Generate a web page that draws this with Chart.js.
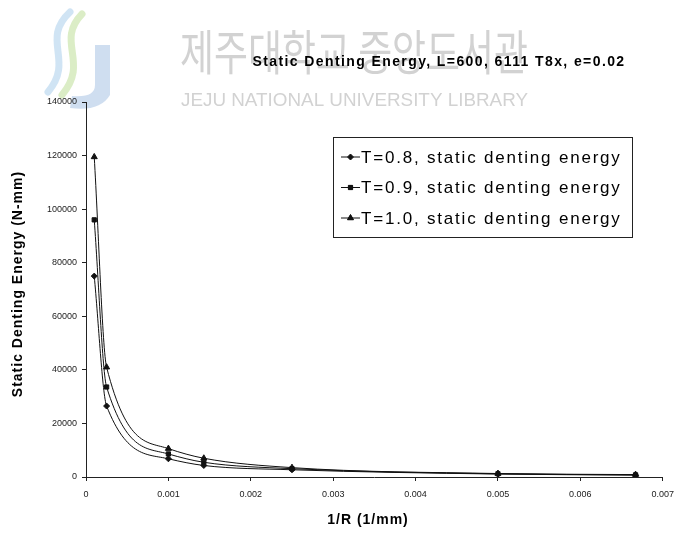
<!DOCTYPE html>
<html>
<head>
<meta charset="utf-8">
<script src="https://cdn.jsdelivr.net/npm/chart.js@4/dist/chart.umd.min.js"></script>
<style>
  html, body { margin:0; padding:0; background:#fff; }
  #wrap { width:682px; height:533px; position:relative; }
</style>
</head>
<body>
<div id="wrap"><canvas id="denting"></canvas></div>
<script>

// 1/R (1/mm)
const inverseRadius = [0.0001, 0.00025, 0.001, 0.00143, 0.0025, 0.005, 0.00667];

// static denting energy (N-mm)
const energyT08 = [75000, 26500, 6800, 4300, 2700, 1100, 700];
const energyT09 = [96000, 33600, 8600, 5500, 3100, 1200, 800];
const energyT10 = [119500, 41000, 10600, 7000, 3500, 1300, 900];

const seriesLabels = [
    "T=0.8, static denting energy",
    "T=0.9, static denting energy",
    "T=1.0, static denting energy"
];

const xTicks = [0, 0.001, 0.002, 0.003, 0.004, 0.005, 0.006, 0.007];
const yTicks = [0, 20000, 40000, 60000, 80000, 100000, 120000, 140000];

const titleText = "Static Denting Energy, L=600, 6111 T8x, e=0.02";
const xTitle = "1/R (1/mm)";
const yTitle = "Static Denting Energy (N-mm)";
const watermarkKo = "제주대학교 중앙도서관";
const watermarkEn = "JEJU NATIONAL UNIVERSITY LIBRARY";

const FONT = "'Liberation Sans', Arial, sans-serif";

function toPoints(values){
    return values.map((v,i)=>({x:inverseRadius[i], y:v}));
}

function makeSet(label, values, marker, radius){
    return {
        label:label,
        data:toPoints(values),
        showLine:true,
        borderColor:"#111",
        borderWidth:1,
        backgroundColor:"#111",
        pointStyle:marker,
        pointRadius:radius,
        pointBorderWidth:1,
        cubicInterpolationMode:"monotone"
    };
}

// watermark, logo, titles and legend
const decorPlugin = {
    id:"decor",
    beforeDraw(chart){
        const ctx = chart.ctx;
        ctx.save();

        // faint logo swooshes
        ctx.lineCap = "round";
        ctx.lineWidth = 7;
        ctx.strokeStyle = "rgba(170,205,235,0.55)";
        ctx.beginPath();
        ctx.moveTo(70,12);
        ctx.bezierCurveTo(40,40,75,60,48,92);
        ctx.stroke();
        ctx.strokeStyle = "rgba(195,225,160,0.6)";
        ctx.beginPath();
        ctx.moveTo(82,14);
        ctx.bezierCurveTo(55,42,90,62,62,95);
        ctx.stroke();
        ctx.fillStyle = "rgba(175,200,230,0.6)";
        ctx.beginPath();
        ctx.moveTo(95,45);
        ctx.lineTo(110,45);
        ctx.lineTo(110,95);
        ctx.quadraticCurveTo(100,112,70,108);
        ctx.lineTo(72,96);
        ctx.quadraticCurveTo(95,98,95,85);
        ctx.closePath();
        ctx.fill();

        ctx.fillStyle = "#d2d2d2";
        ctx.textBaseline = "alphabetic";
        ctx.textAlign = "left";
        ctx.font = "48px 'Noto Sans CJK KR'";
        ctx.fillText(watermarkKo, 180, 70, 348);
        ctx.font = "19px " + FONT;
        ctx.fillText(watermarkEn, 181, 106, 347);
        ctx.restore();
    },
    afterDraw(chart){
        const ctx = chart.ctx;
        ctx.save();
        ctx.fillStyle = "#000";
        ctx.textAlign = "center";
        ctx.textBaseline = "middle";

        ctx.letterSpacing = "1.4px";
        ctx.font = "bold 14px " + FONT;
        ctx.fillText(titleText, 439, 62);

        ctx.letterSpacing = "1px";
        ctx.font = "bold 14px " + FONT;
        ctx.fillText(xTitle, 368, 520);

        ctx.save();
        ctx.translate(18, 284);
        ctx.rotate(-Math.PI/2);
        ctx.fillText(yTitle, 0, 0);
        ctx.restore();

        // legend box
        const boxL = 333, boxT = 137, boxW = 299, boxH = 100;
        ctx.fillStyle = "#fff";
        ctx.fillRect(boxL, boxT, boxW, boxH);
        ctx.strokeStyle = "#222";
        ctx.lineWidth = 1;
        ctx.strokeRect(boxL+0.5, boxT+0.5, boxW, boxH);

        ctx.letterSpacing = "1.8px";
        ctx.font = "17px " + FONT;
        ctx.textAlign = "left";
        chart.data.datasets.forEach((ds,i)=>{
            const y = boxT + 20 + i*30.5;
            ctx.strokeStyle = "#111";
            ctx.beginPath();
            ctx.moveTo(boxL+8, y);
            ctx.lineTo(boxL+27, y);
            ctx.stroke();
            Chart.helpers.drawPoint(ctx, {
                pointStyle:ds.pointStyle,
                radius:ds.pointRadius,
                borderWidth:1
            }, boxL+17.5, y);
            ctx.fillStyle = "#111";
            ctx.fill();
            ctx.fillStyle = "#000";
            ctx.fillText(ds.label, boxL+28, y+1);
        });
        ctx.restore();
    }
};

new Chart(
    document.getElementById("denting"),
    {
        type:"scatter",
        data:{
            datasets:[
                makeSet(seriesLabels[0], energyT08, "rectRot", 3),
                makeSet(seriesLabels[1], energyT09, "rect", 3),
                makeSet(seriesLabels[2], energyT10, "triangle", 3.5)
            ]
        },
        options:{
            responsive:true,
            maintainAspectRatio:false,
            animation:false,
            layout:{
                padding:{top:102, right:10, left:0, bottom:0}
            },
            plugins:{
                legend:{display:false},
                title:{display:false},
                tooltip:{enabled:false}
            },
            scales:{
                x:{
                    type:"linear",
                    min:0,
                    max:0.007,
                    afterFit(scale){ scale.height = 56; },
                    afterBuildTicks(scale){
                        scale.ticks = xTicks.map(v=>({value:v}));
                    },
                    ticks:{
                        color:"#222",
                        font:{size:9, family:FONT},
                        padding:8,
                        maxRotation:0,
                        callback:v => v === 0 ? "0" : v.toFixed(3)
                    },
                    grid:{
                        drawOnChartArea:false,
                        drawTicks:true,
                        tickLength:4,
                        color:"#222"
                    },
                    border:{color:"#222", width:1}
                },
                y:{
                    min:0,
                    max:140000,
                    afterFit(scale){ scale.width = 86; },
                    afterBuildTicks(scale){
                        scale.ticks = yTicks.map(v=>({value:v}));
                    },
                    ticks:{
                        color:"#222",
                        font:{size:9, family:FONT},
                        padding:5,
                        callback:v => String(v)
                    },
                    grid:{
                        drawOnChartArea:false,
                        drawTicks:true,
                        tickLength:4,
                        color:"#222"
                    },
                    border:{color:"#222", width:1}
                }
            }
        },
        plugins:[decorPlugin]
    }
);

</script>
</body>
</html>
